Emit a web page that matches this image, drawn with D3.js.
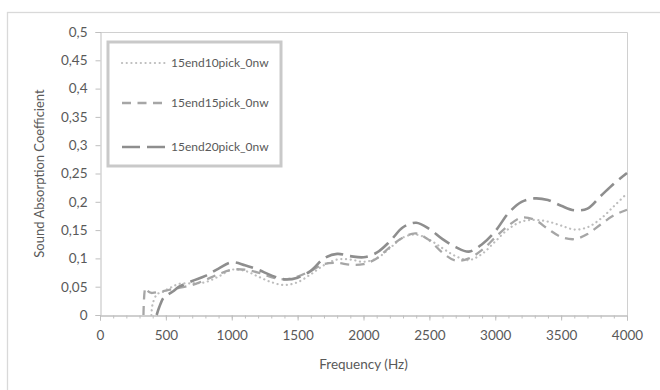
<!DOCTYPE html>
<html>
<head>
<meta charset="utf-8">
<script src="https://cdn.jsdelivr.net/npm/d3@7"></script>
<style>
  html, body { margin: 0; padding: 0; background: #fff; }
  svg { display: block; font-family: Lato, "Liberation Sans", sans-serif; }
</style>
</head>
<body>
<svg id="chart" width="660" height="390"></svg>
<script>
// Frequency grid (Hz) shared by all three measurements
const freqs = [330, 345, 360, 390, 400, 430, 450, 480, 500, 550, 600, 700, 800, 900, 1000,
  1100, 1200, 1300, 1400, 1500, 1600, 1700, 1800, 1900, 2000, 2100, 2200, 2300, 2400, 2500,
  2600, 2700, 2800, 2900, 3000, 3100, 3200, 3300, 3400, 3500, 3600, 3700, 3800, 3900, 4000];

// Absorption coefficients (null = not measured at that frequency)
const abs10 = [null, null, null, 0, 0.02, 0.036, 0.039, 0.041, 0.044, 0.05, 0.055, 0.056, 0.058,
  0.068, 0.08, 0.078, 0.068, 0.058, 0.053, 0.058, 0.072, 0.088, 0.098, 0.098, 0.094, 0.1,
  0.118, 0.137, 0.142, 0.133, 0.118, 0.104, 0.097, 0.108, 0.13, 0.152, 0.165, 0.168, 0.165,
  0.158, 0.151, 0.155, 0.17, 0.192, 0.215];
const abs15 = [0, 0.048, 0.043, 0.039, 0.039, 0.04, 0.041, 0.042, 0.043, 0.046, 0.048, 0.053,
  0.062, 0.072, 0.08, 0.08, 0.075, 0.067, 0.063, 0.068, 0.078, 0.09, 0.092, 0.089, 0.09, 0.1,
  0.12, 0.137, 0.144, 0.132, 0.11, 0.096, 0.1, 0.115, 0.137, 0.158, 0.172, 0.168, 0.152,
  0.138, 0.134, 0.143, 0.16, 0.176, 0.186];
const abs20 = [null, null, null, null, null, 0, 0.014, 0.03, 0.034, 0.041, 0.05, 0.06, 0.069,
  0.082, 0.093, 0.088, 0.08, 0.07, 0.063, 0.066, 0.078, 0.1, 0.108, 0.104, 0.102, 0.11,
  0.13, 0.155, 0.163, 0.152, 0.134, 0.12, 0.112, 0.125, 0.148, 0.18, 0.2, 0.206, 0.203,
  0.193, 0.185, 0.188, 0.21, 0.232, 0.251];

const seriesNames = ["15end10pick_0nw", "15end15pick_0nw", "15end20pick_0nw"];
const xTicks = [0, 500, 1000, 1500, 2000, 2500, 3000, 3500, 4000];
const yTicks = [0, 0.05, 0.1, 0.15, 0.2, 0.25, 0.3, 0.35, 0.4, 0.45, 0.5];

const series = [
  { name: seriesNames[0], values: abs10, color: "#bdbdbd", width: 2.2, dash: "0.1,4.6", cap: "round" },
  { name: seriesNames[1], values: abs15, color: "#a6a6a6", width: 2.3, dash: "9,6.5", cap: "butt" },
  { name: seriesNames[2], values: abs20, color: "#8e8e8e", width: 2.6, dash: "18,7", cap: "butt" }
];

const svg = d3.select("#chart");
const plot = { left: 100, right: 627, top: 32, bottom: 315 };

// Outer chart frame
svg.append("rect")
  .attr("x", 7.5).attr("y", 12.5).attr("width", 700).attr("height", 500)
  .attr("fill", "#fff").attr("stroke", "#d9d9d9").attr("stroke-width", 1.3);

const x = d3.scaleLinear().domain([0, 4000]).range([plot.left, plot.right]);
const y = d3.scaleLinear().domain([0, 0.5]).range([plot.bottom, plot.top]);

// Plot area top and right edges
svg.append("path")
  .attr("d", `M${plot.left},${plot.top + 0.5}H${plot.right + 0.5}V${plot.bottom}`)
  .attr("fill", "none").attr("stroke", "#d0d0d0").attr("stroke-width", 1);

const fmt = d => String(d).replace(".", ",");

// Y axis
const yAxis = svg.append("g")
  .attr("transform", `translate(${plot.left + 0.5},0)`)
  .call(d3.axisLeft(y).tickValues(yTicks).tickFormat(fmt).tickSize(5).tickPadding(8));

// X axis: minor ticks every 100 Hz, major every 500 Hz
const xAxisMinor = svg.append("g")
  .attr("transform", `translate(0,${plot.bottom + 0.5})`)
  .call(d3.axisBottom(x).tickValues(d3.range(0, 4001, 100)).tickFormat("").tickSize(3));
const xAxis = svg.append("g")
  .attr("transform", `translate(0,${plot.bottom + 0.5})`)
  .call(d3.axisBottom(x).tickValues(xTicks).tickFormat(d => d).tickSize(5).tickPadding(10));

[yAxis, xAxis, xAxisMinor].forEach(g => {
  g.selectAll(".domain").attr("stroke", "#bfbfbf");
  g.selectAll(".tick line").attr("stroke", "#bfbfbf");
  g.selectAll(".tick text")
    .attr("fill", "#595959")
    .style("font-size", "13.5px")
    .style("font-family", "Lato, 'Liberation Sans', sans-serif");
});

// Axis titles
svg.append("text")
  .attr("x", (plot.left + plot.right) / 2).attr("y", 369)
  .attr("text-anchor", "middle").attr("fill", "#595959").style("font-size", "13.5px")
  .text("Frequency (Hz)");
svg.append("text")
  .attr("transform", `translate(44,${(plot.top + plot.bottom) / 2}) rotate(-90)`)
  .attr("text-anchor", "middle").attr("fill", "#595959").style("font-size", "13px")
  .text("Sound Absorption Coefficient");

// Curves
const line = d3.line()
  .defined(d => d.v !== null)
  .x(d => x(d.f))
  .y(d => y(d.v))
  .curve(d3.curveCatmullRom.alpha(0.5));

series.forEach(s => {
  const pts = freqs.map((f, i) => ({ f, v: s.values[i] }));
  svg.append("path")
    .datum(pts)
    .attr("d", line)
    .attr("fill", "none")
    .attr("stroke", s.color)
    .attr("stroke-width", s.width)
    .attr("stroke-dasharray", s.dash)
    .attr("stroke-linecap", s.cap);
});

// Legend
const legend = svg.append("g");
legend.append("rect")
  .attr("x", 108).attr("y", 42).attr("width", 173).attr("height", 124)
  .attr("fill", "#fff").attr("stroke", "#c9c9c9").attr("stroke-width", 3);

const rowY = [63, 103, 147];
series.forEach((s, i) => {
  legend.append("line")
    .attr("x1", 122).attr("x2", 168).attr("y1", rowY[i]).attr("y2", rowY[i])
    .attr("stroke", s.color)
    .attr("stroke-width", s.width)
    .attr("stroke-dasharray", s.dash)
    .attr("stroke-linecap", s.cap);
  legend.append("text")
    .attr("x", 171).attr("y", rowY[i]).attr("dy", "0.35em")
    .attr("fill", "#595959").style("font-size", "12px")
    .text(s.name);
});
</script>
</body>
</html>
